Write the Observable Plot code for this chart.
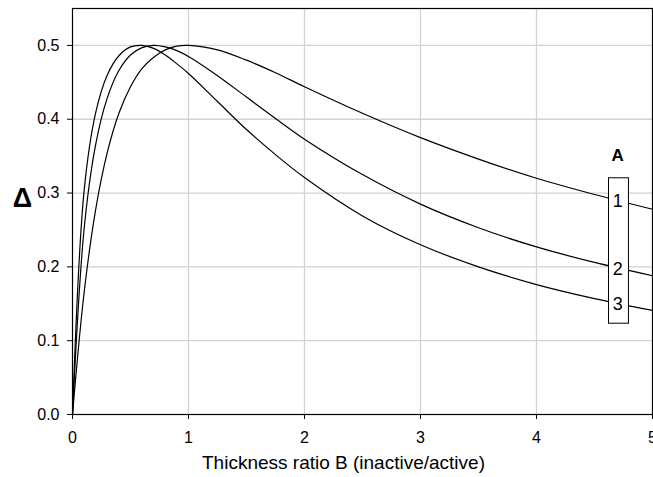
<!DOCTYPE html>
<html>
<head>
<meta charset="utf-8">
<script src="https://cdn.jsdelivr.net/npm/d3@7"></script>
<script src="https://cdn.jsdelivr.net/npm/@observablehq/plot@0.6"></script>
<style>
  html, body { margin: 0; padding: 0; background: #fff; }
  #chart { width: 653px; height: 477px; }
</style>
</head>
<body>
<div id="chart"></div>
<script>
// Thickness ratio B (inactive/active)
const B = [0, 0.1, 0.2, 0.3, 0.4, 0.5, 0.6, 0.7, 0.8, 0.9, 1.0, 1.25, 1.5, 1.75, 2, 2.5, 3, 3.5, 4, 4.5, 5];
// Δ for A = 1, 2, 3
const deltaA1 = [0, 0.165, 0.278, 0.355, 0.408, 0.444, 0.469, 0.484, 0.494, 0.499, 0.500, 0.494, 0.480, 0.463, 0.444, 0.408, 0.375, 0.346, 0.320, 0.298, 0.278];
const deltaA2 = [0, 0.251, 0.366, 0.429, 0.466, 0.487, 0.497, 0.500, 0.498, 0.493, 0.485, 0.459, 0.430, 0.401, 0.373, 0.325, 0.285, 0.253, 0.227, 0.206, 0.188];
const deltaA3 = [0, 0.303, 0.409, 0.460, 0.486, 0.498, 0.500, 0.496, 0.487, 0.475, 0.462, 0.424, 0.386, 0.352, 0.321, 0.269, 0.230, 0.200, 0.176, 0.157, 0.141];
const seriesA = ["1", "2", "3"];
const xTicks = [0, 1, 2, 3, 4, 5];
const yTicks = [0, 0.1, 0.2, 0.3, 0.4, 0.5];
const xLabel = "Thickness ratio B (inactive/active)";
const yLabel = "Δ";
const legendTitle = "A";
const labelAtB = 4.7;

const seriesValues = [deltaA1, deltaA2, deltaA3];
const rows = [];
seriesA.forEach((a, i) => B.forEach((b, j) => rows.push({A: a, B: b, delta: seriesValues[i][j]})));

// label positions on each curve at B = labelAtB (interpolated along the data)
const labelRows = seriesA.map((a, i) => {
  const vals = seriesValues[i];
  const j = d3.bisectLeft(B, labelAtB);
  const t = (labelAtB - B[j - 1]) / (B[j] - B[j - 1]);
  return {A: a, B: labelAtB, delta: vals[j - 1] + t * (vals[j] - vals[j - 1])};
});

const font = "'Liberation Sans', Arial, Helvetica, sans-serif";

const chart = Plot.plot({
  width: 653,
  height: 477,
  marginLeft: 72,
  marginRight: 1,
  marginTop: 8,
  marginBottom: 63,
  style: {fontFamily: font, fontSize: "16px", background: "#fff", color: "#000"},
  x: {domain: [0, 5]},
  y: {domain: [0, 0.55]},
  marks: [
    Plot.ruleX(xTicks.filter(d => d > 0 && d < 5), {stroke: "#d2d2d2", strokeWidth: 1.3}),
    Plot.ruleY(yTicks.filter(d => d > 0), {stroke: "#d2d2d2", strokeWidth: 1.3}),
    Plot.line(rows, {x: "B", y: "delta", z: "A", stroke: "#000", strokeWidth: 1.2, curve: "catmull-rom"}),
    // legend box
    Plot.rect([0], {x1: 4.625, x2: 4.797, y1: 0.123, y2: 0.320, fill: "#fff", stroke: "#000", strokeWidth: 1}),
    Plot.text(labelRows, {x: "B", y: "delta", text: "A", fontSize: 18, fill: "#000", dy: 1}),
    Plot.text([legendTitle], {x: labelAtB, y: 0.351, fontSize: 17, fontWeight: "bold", fill: "#000"}),
    Plot.frame({stroke: "#000", strokeWidth: 1.2}),
    Plot.axisX({ticks: xTicks, tickFormat: d3.format("d"), tickSize: 5, tickPadding: 12, fontSize: 16, label: null}),
    Plot.axisY({ticks: yTicks, tickFormat: d3.format(".1f"), tickSize: 5, tickPadding: 8, fontSize: 16, label: null}),
    Plot.text([xLabel], {frameAnchor: "bottom", textAnchor: "middle", lineAnchor: "middle", dx: -19, dy: 48, fontSize: 19, fill: "#000"}),
    Plot.text([yLabel], {frameAnchor: "left", textAnchor: "middle", lineAnchor: "middle", dx: -50, dy: -13, fontSize: 27, fontWeight: "bold", fill: "#000"})
  ]
});
document.getElementById("chart").appendChild(chart);
</script>
</body>
</html>
